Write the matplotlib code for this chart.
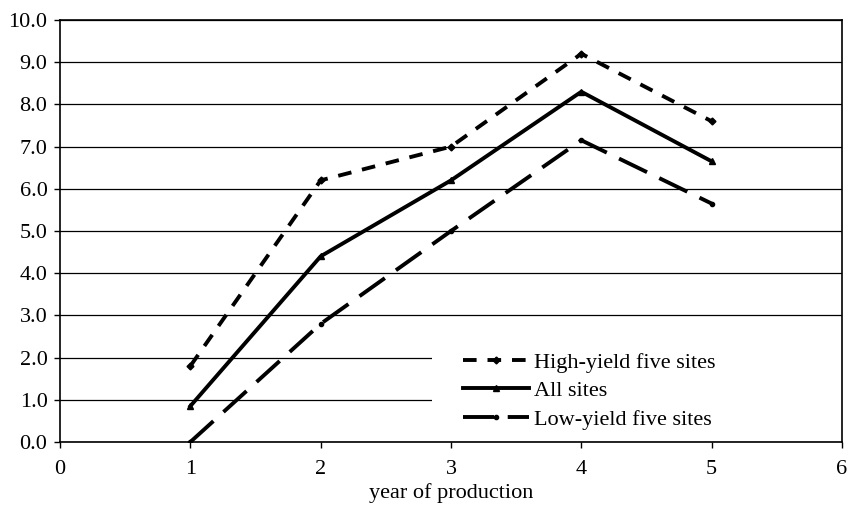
import matplotlib.pyplot as plt
from matplotlib.patches import Rectangle

plt.rcParams['font.family'] = ['Liberation Serif', 'DejaVu Serif']

years = [1, 2, 3, 4, 5]
highYield = [1.8, 6.2, 7.0, 9.2, 7.6]
allSites = [0.85, 4.4, 6.2, 8.3, 6.65]
lowYield = [0.0, 2.8, 5.0, 7.15, 5.65]

fig = plt.figure(figsize=(8.57, 5.09), dpi=100)
ax = fig.add_axes([60/857, 1 - 442/509, 782/857, 422/509])

ax.plot(years, highYield, color='black', lw=2.8, linestyle=(0, (3.5, 2.8)),
        marker='D', ms=3.5, label='High-yield five sites')
ax.plot(years, allSites, color='black', lw=2.8, linestyle='-',
        marker='^', ms=4.5, label='All sites')
ax.plot(years, lowYield, color='black', lw=2.8, linestyle=(0, (8, 3.5)),
        marker='o', ms=3, label='Low-yield five sites')

ax.set_xlim(0, 6)
ax.set_ylim(0, 10)
ax.set_xticks(range(0, 7))
ax.set_yticks([i for i in range(11)])
ax.set_yticklabels(['%.1f' % i for i in range(11)])
ax.yaxis.grid(True, color='black', lw=0.9)
ax.set_axisbelow(True)
ax.tick_params(labelsize=16, direction='out', length=4, width=1)
ax.tick_params(axis='x', pad=9)
ax.tick_params(axis='y', pad=5)
for s in ax.spines.values():
    s.set_linewidth(1.2)
ax.set_xlabel('year of production', fontsize=16, labelpad=3)

# white area behind the legend hides the grid lines there
ax.add_patch(Rectangle(((432 - 60) / 782, 0.003), 1 - (432 - 60) / 782, 0.23,
                       transform=ax.transAxes, facecolor='white',
                       edgecolor='none', zorder=1))

leg = ax.legend(loc='center left', bbox_to_anchor=(0.515, 0.121), fontsize=16,
                frameon=False, handlelength=3.0, handletextpad=0.2,
                borderpad=0, borderaxespad=0, labelspacing=0.35)

fig.savefig('out.png', dpi=100)
